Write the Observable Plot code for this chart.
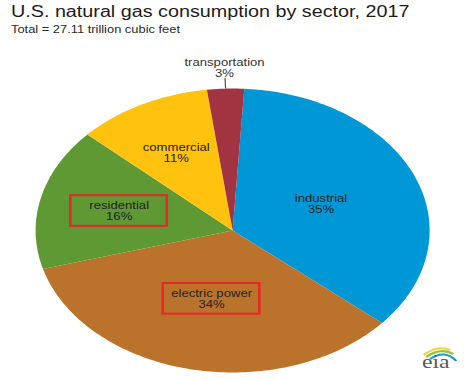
<!DOCTYPE html>
<html>
<head>
<meta charset="utf-8">
<script src="https://cdn.jsdelivr.net/npm/d3@7"></script>
<script src="https://cdn.jsdelivr.net/npm/@observablehq/plot@0.6"></script>
<style>
  html, body { margin: 0; padding: 0; background: #fff; overflow: hidden; }
  #wrap { position: relative; width: 371px; height: 380px; transform: scaleX(1.25); transform-origin: 0 0;
          font-family: "Liberation Sans", Arial, sans-serif; }
  #head { height: 38px; padding-left: 8.8px; box-sizing: border-box; }
  #title { font-size: 15.8px; line-height: 20px; padding-top: 1.5px; color: #1c1c1c; white-space: nowrap; }
  #subtitle { font-size: 10.3px; line-height: 13px; margin-top: 1px; color: #2a2a2a; white-space: nowrap; }
  #logo { position: absolute; left: 334px; top: 343px; }
  #chart svg { display: block; }
</style>
</head>
<body>
<div id="wrap">
  <div id="head"><div id="title"></div><div id="subtitle"></div></div>
  <div id="chart"></div>
  <svg id="logo" width="34" height="30" viewBox="0 0 34 30">
    <path d="M5,12 Q16,2 26,7" fill="none" stroke="#f3d23a" stroke-width="2"/>
    <path d="M7,14 Q18,4 29,11" fill="none" stroke="#8cc63f" stroke-width="2"/>
    <path d="M10,16 Q22,6 31,18" fill="none" stroke="#1b9ad6" stroke-width="2"/>
    <text x="3.6" y="25" font-family="Liberation Serif, serif" font-size="19" fill="#5a5a5a">eia</text>
  </svg>
</div>
<script>
// ---- data ----
const titleText = "U.S. natural gas consumption by sector, 2017";
const subtitleText = "Total = 27.11 trillion cubic feet";
const sectors = ["industrial", "electric power", "residential", "commercial", "transportation"];
const shares = [35, 34, 16, 11, 3];
const sliceColors = ["#0097d7", "#bb732c", "#5f9934", "#ffc20f", "#a23442"];
const highlighted = ["residential", "electric power"];

document.getElementById("title").textContent = titleText;
document.getElementById("subtitle").textContent = subtitleText;

// ---- geometry (unit circle, stretched by the x/y scales) ----
const START = 3.4 * Math.PI / 180;
const arcs = d3.pie().sort(null).startAngle(START).endAngle(START + 2 * Math.PI)(shares);

const slicePts = [];
arcs.forEach((a, i) => {
  const name = sectors[i];
  slicePts.push({sector: name, x: 0, y: 0});
  const n = Math.max(2, Math.ceil((a.endAngle - a.startAngle) / (Math.PI / 180)));
  for (let k = 0; k <= n; k++) {
    const t = a.startAngle + (a.endAngle - a.startAngle) * k / n;
    slicePts.push({sector: name, x: Math.sin(t), y: Math.cos(t)});
  }
  slicePts.push({sector: name, x: 0, y: 0});
});

// inside labels: narrower slices push the label further out
const labels = arcs.map((a, i) => {
  const mid = (a.startAngle + a.endAngle) / 2;
  const outside = shares[i] < 5;
  const r = outside ? 1.145 : 0.68 - 0.0055 * shares[i];
  return {
    sector: sectors[i],
    text: `${sectors[i]}\n${shares[i]}%`,
    x: r * Math.sin(mid), y: r * Math.cos(mid),
    outside,
    lx1: Math.sin(mid), ly1: Math.cos(mid),
    lx2: 1.075 * Math.sin(mid), ly2: 1.075 * Math.cos(mid)
  };
});
const boxed = labels.filter(d => highlighted.includes(d.sector));
const leaders = labels.filter(d => d.outside);

const font = '"Liberation Sans", Arial, sans-serif';
const chart = Plot.plot({
  width: 371,
  height: 342,
  marginLeft: 28,
  marginRight: 27.8,
  marginTop: 50,
  marginBottom: 8,
  x: {domain: [-1, 1], axis: null},
  y: {domain: [-1, 1], axis: null},
  color: {domain: sectors, range: sliceColors},
  style: {fontFamily: font, background: "white", overflow: "visible"},
  marks: [
    Plot.line(slicePts, {x: "x", y: "y", z: "sector", fill: "sector", stroke: "none", curve: "linear"}),
    Plot.link(leaders, {x1: "lx1", y1: "ly1", x2: "lx2", y2: "ly2", stroke: "#555", strokeWidth: 1}),
    Plot.rect(boxed, {
      x1: d => d.x - 0.245, x2: d => d.x + 0.245,
      y1: d => d.y - 0.108, y2: d => d.y + 0.108,
      fill: "none", stroke: "#e8262b", strokeWidth: 2
    }),
    Plot.text(labels, {x: "x", y: "y", text: "text", fontSize: 10.5, lineHeight: 1.05,
      fill: d => d.outside ? "#333" : "#222", fontFamily: font})
  ]
});
document.getElementById("chart").appendChild(chart);
</script>
</body>
</html>
